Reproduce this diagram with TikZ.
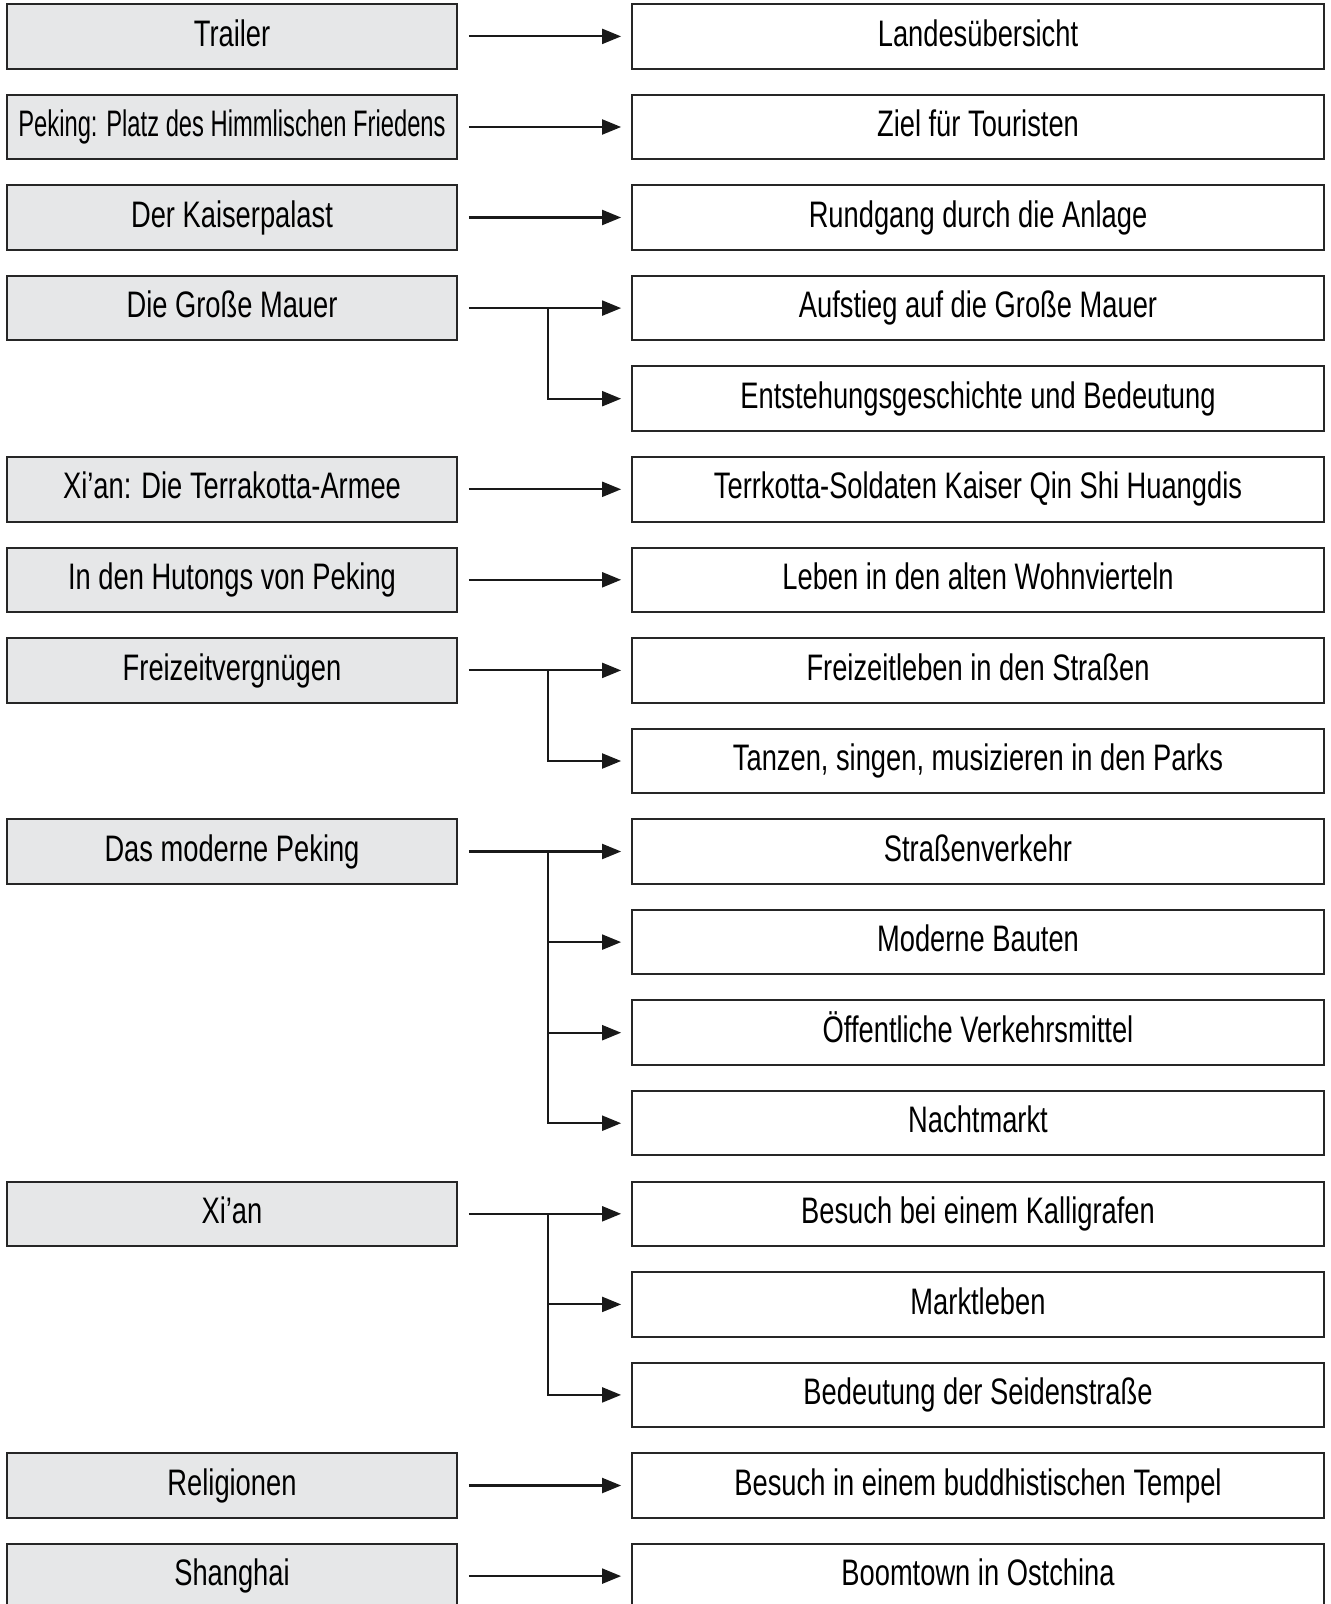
\documentclass[tikz,border=0pt]{standalone}
\usepackage{fontspec}
\setmainfont[FakeStretch=0.74]{Liberation Sans}
\usepackage{tikz}
\usetikzlibrary{arrows.meta,calc}

\definecolor{boxgray}{HTML}{E6E7E8}

\begin{document}
\begin{tikzpicture}[x=0.02cm,y=-0.02cm,
    topic/.style={draw=black!85,line width=1.1pt,fill=boxgray,minimum width=9cm,minimum height=1.29cm,inner sep=0pt,text height=15.5pt,text depth=4.5pt,font=\fontsize{21}{25}\selectfont},
    sub/.style={draw=black!85,line width=1.1pt,fill=white,minimum width=13.84cm,minimum height=1.29cm,inner sep=0pt,text height=15.5pt,text depth=4.5pt,font=\fontsize{21}{25}\selectfont},
    arr/.style={line width=1.2pt,black!90,-{Triangle[length=0.38cm,width=0.3cm]},shorten >=0.2cm}]
    \useasboundingbox (0,0) rectangle (1330,1604);

    % left column
    \node[topic] (trailer) at (232,36.4) {Trailer};
    \node[topic] (platz) at (232,127.0) {\scalebox{0.87}[1]{Peking: Platz des Himmlischen Friedens}};
    \node[topic] (palast) at (232,217.5) {Der Kaiserpalast};
    \node[topic] (mauer) at (232,308.1) {Die Große Mauer};
    \node[topic] (armee) at (232,489.3) {Xi’an: Die Terrakotta-Armee};
    \node[topic] (hutongs) at (232,579.8) {In den Hutongs von Peking};
    \node[topic] (freizeit) at (232,670.4) {Freizeitvergnügen};
    \node[topic] (modern) at (232,851.5) {Das moderne Peking};
    \node[topic] (xian) at (232,1213.8) {Xi’an};
    \node[topic] (religion) at (232,1485.5) {Religionen};
    \node[topic] (shanghai) at (232,1576.1) {Shanghai};

    % right column
    \node[sub] (land) at (978,36.4) {Landesübersicht};
    \node[sub] (ziel) at (978,127.0) {Ziel für Touristen};
    \node[sub] (rundgang) at (978,217.5) {Rundgang durch die Anlage};
    \node[sub] (aufstieg) at (978,308.1) {Aufstieg auf die Große Mauer};
    \node[sub] (entstehung) at (978,398.7) {Entstehungsgeschichte und Bedeutung};
    \node[sub] (soldaten) at (978,489.3) {Terrkotta-Soldaten Kaiser Qin Shi Huangdis};
    \node[sub] (leben) at (978,579.8) {Leben in den alten Wohnvierteln};
    \node[sub] (strassen) at (978,670.4) {Freizeitleben in den Straßen};
    \node[sub] (tanzen) at (978,761.0) {Tanzen, singen, musizieren in den Parks};
    \node[sub] (verkehr) at (978,851.5) {Straßenverkehr};
    \node[sub] (bauten) at (978,942.1) {Moderne Bauten};
    \node[sub] (oeffentlich) at (978,1032.7) {Öffentliche Verkehrsmittel};
    \node[sub] (nachtmarkt) at (978,1123.2) {Nachtmarkt};
    \node[sub] (kalligraf) at (978,1213.8) {Besuch bei einem Kalligrafen};
    \node[sub] (markt) at (978,1304.4) {Marktleben};
    \node[sub] (seide) at (978,1394.9) {Bedeutung der Seidenstraße};
    \node[sub] (tempel) at (978,1485.5) {Besuch in einem buddhistischen Tempel};
    \node[sub] (boomtown) at (978,1576.1) {Boomtown in Ostchina};

    % branch points
    \coordinate (bmauer) at (548,308.1);
    \coordinate (bfreizeit) at (548,670.4);
    \coordinate (bmodern) at (548,851.5);
    \coordinate (bxian) at (548,1213.8);

    % single arrows
    \draw[arr,shorten <=0.22cm] (trailer.east) -- (land.west);
    \draw[arr,shorten <=0.22cm] (platz.east) -- (ziel.west);
    \draw[arr,shorten <=0.22cm] (palast.east) -- (rundgang.west);
    \draw[arr,shorten <=0.22cm] (mauer.east) -- (aufstieg.west);
    \draw[arr,shorten <=0.22cm] (armee.east) -- (soldaten.west);
    \draw[arr,shorten <=0.22cm] (hutongs.east) -- (leben.west);
    \draw[arr,shorten <=0.22cm] (freizeit.east) -- (strassen.west);
    \draw[arr,shorten <=0.22cm] (modern.east) -- (verkehr.west);
    \draw[arr,shorten <=0.22cm] (xian.east) -- (kalligraf.west);
    \draw[arr,shorten <=0.22cm] (religion.east) -- (tempel.west);
    \draw[arr,shorten <=0.22cm] (shanghai.east) -- (boomtown.west);

    % branches
    \draw[arr] (bmauer) |- (entstehung.west);
    \draw[arr] (bfreizeit) |- (tanzen.west);
    \draw[arr] (bmodern) |- (bauten.west);
    \draw[arr] (bmodern) |- (oeffentlich.west);
    \draw[arr] (bmodern) |- (nachtmarkt.west);
    \draw[arr] (bxian) |- (markt.west);
    \draw[arr] (bxian) |- (seide.west);
\end{tikzpicture}
\end{document}
